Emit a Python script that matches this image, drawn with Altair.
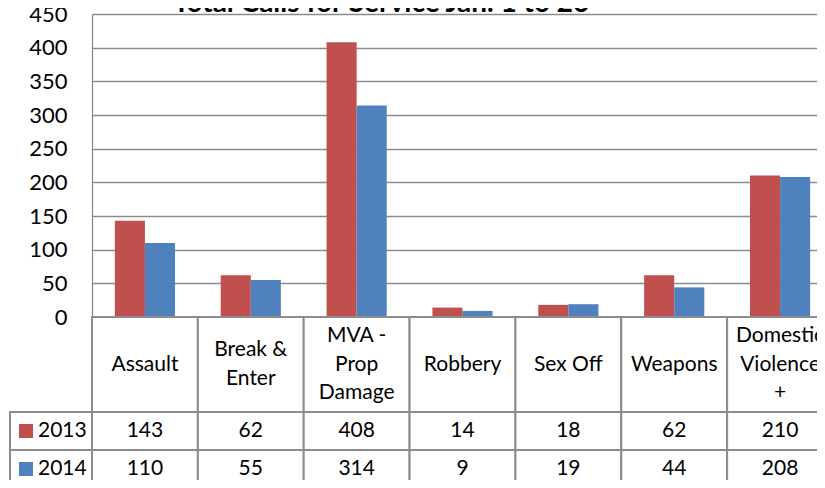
import altair as alt
import pandas as pd

# ---- data ----
title_text = "Total Calls for Service Jan. 1 to 26"
categories = ["Assault", "Break & Enter", "MVA - Prop Damage", "Robbery",
              "Sex Off", "Weapons", "Domestic Violence +"]
header_labels = ["Assault", "Break &\nEnter", "MVA -\nProp\nDamage", "Robbery",
                 "Sex Off", "Weapons", "Domestic\nViolence\n+"]
years = ["2013", "2014"]
values_2013 = [143, 62, 408, 14, 18, 62, 210]
values_2014 = [110, 55, 314, 9, 19, 44, 208]
y_ticks = [0, 50, 100, 150, 200, 250, 300, 350, 400, 450]
colors = ["#C0504D", "#4F81BD"]

rows = []
for yr, vals in zip(years, [values_2013, values_2014]):
    for c, v in zip(categories, vals):
        rows.append({"category": c, "year": yr, "calls": v})
df = pd.DataFrame(rows)

line_rows = []
for c, lab in zip(categories, header_labels):
    parts = lab.split("\n")
    n = len(parts)
    for i, p in enumerate(parts):
        line_rows.append({"category": c, "line": p, "pos": i - (n - 1) / 2})
hdr_lines = pd.DataFrame(line_rows)
hdr = pd.DataFrame({"category": categories})
yrs = pd.DataFrame({"year": years})

# ---- layout / style ----
W_MAIN, W_LEG = 741, 82
H_TITLE, H_BARS, H_HDR, H_VAL = 6, 303, 95, 76
LINE_H = 28.5
GRID = "#8c8c8c"
FONT = "Lato"
FS = 21

x_scale = alt.Scale(domain=categories, paddingInner=0, paddingOuter=0)
row_scale = alt.Scale(domain=years, paddingInner=0, paddingOuter=0)
color_scale = alt.Scale(domain=years, range=colors)
X = alt.X("category:N", scale=x_scale, sort=categories, axis=None)


def empty(h):
    return alt.Chart(pd.DataFrame({"a": [0]})).mark_text(text="").encode(
        x=alt.value(0)).properties(width=W_LEG, height=h)


title = alt.Chart(pd.DataFrame({"t": [title_text]})).mark_text(
    font=FONT, fontSize=28, fontWeight="bold", align="left",
    baseline="alphabetic", dy=1
).encode(x=alt.value(81), text="t:N").properties(width=W_MAIN, height=H_TITLE)

bars = alt.Chart(df).mark_bar().encode(
    x=X,
    xOffset=alt.XOffset("year:N", scale=alt.Scale(domain=years, paddingInner=0, paddingOuter=0.76)),
    y=alt.Y("calls:Q", scale=alt.Scale(domain=[0, 450], nice=False),
            axis=alt.Axis(values=y_ticks, title=None, ticks=False,
                          domainColor=GRID, domainWidth=1.3,
                          gridColor=GRID, gridWidth=1.3,
                          labelFont=FONT, labelFontSize=22, labelColor="black",
                          labelPadding=25)),
    color=alt.Color("year:N", scale=color_scale, legend=None),
).properties(width=W_MAIN, height=H_BARS)

half = H_HDR / 2 / LINE_H
header = alt.layer(
    alt.Chart(hdr).mark_rect(fill="white", stroke=GRID, strokeWidth=2).encode(x=X),
    alt.Chart(hdr_lines).mark_text(font=FONT, fontSize=FS, baseline="middle", color="black").encode(
        x=X,
        y=alt.Y("pos:Q", scale=alt.Scale(domain=[-half, half], reverse=True, nice=False, zero=False), axis=None),
        text="line:N"),
).properties(width=W_MAIN, height=H_HDR)

Yrow = alt.Y("year:N", scale=row_scale, axis=None)
values = alt.layer(
    alt.Chart(df).mark_rect(fill="white", stroke=GRID, strokeWidth=2).encode(x=X, y=Yrow),
    alt.Chart(df).mark_text(font=FONT, fontSize=FS, color="black").encode(x=X, y=Yrow, text="calls:Q"),
).properties(width=W_MAIN, height=H_VAL)

legend_col = alt.layer(
    alt.Chart(yrs).mark_rect(fill="white", stroke=GRID, strokeWidth=2).encode(y=Yrow),
    alt.Chart(yrs).mark_square(size=196, opacity=1, filled=True, xOffset=-25).encode(
        y=Yrow, color=alt.Color("year:N", scale=color_scale, legend=None)),
    alt.Chart(yrs).mark_text(font=FONT, fontSize=FS, align="left", dx=-13, color="black").encode(
        y=Yrow, text="year:N"),
).properties(width=W_LEG, height=H_VAL)

chart = alt.concat(
    empty(H_TITLE), title,
    empty(H_BARS), bars,
    empty(H_HDR), header,
    legend_col, values,
    columns=2, spacing=0, bounds="flush",
).configure_view(stroke=None).properties(
    autosize=alt.AutoSizeParams(type="none"),
    padding={"left": 2, "top": 0, "right": 807, "bottom": 472})

chart.save("out.html", embed_options={"renderer": "svg", "actions": False})
